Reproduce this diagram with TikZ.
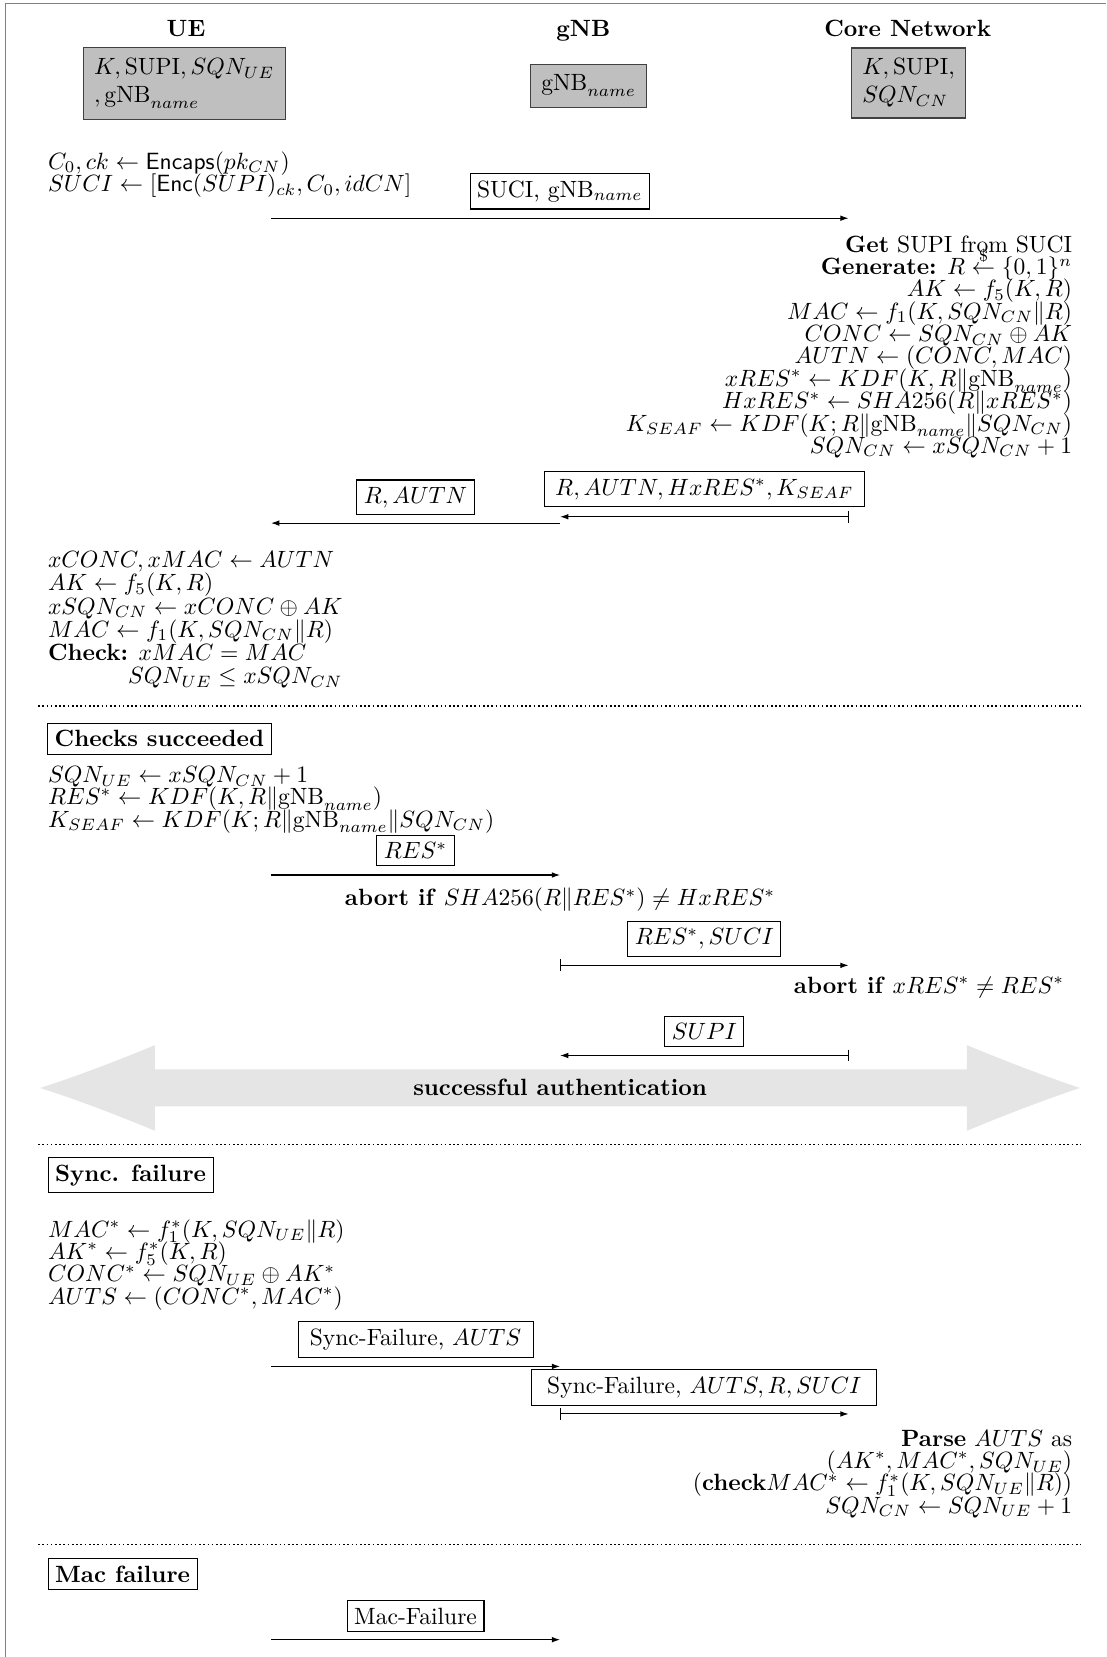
\documentclass[tikz,border=0pt]{standalone}
\usetikzlibrary{arrows.meta}
% fixed line pitch for the stacked formula blocks (lines may touch)
\newcommand{\tightlines}{\fontsize{10}{9.5}\selectfont\lineskiplimit=-100pt\lineskip=0pt\relax}
\newcommand{\looselines}{\fontsize{10}{9.85}\selectfont\lineskiplimit=-100pt\lineskip=0pt\relax}
\begin{document}
\begin{tikzpicture}[x=0.449pt,y=-0.449pt,
  every node/.style={font=\fontsize{10}{12}\selectfont},
  hdr/.style={font=\fontsize{10}{12}\selectfont\bfseries, anchor=base},
  keybox/.style={draw=black!75, line width=0.5pt, fill=lightgray, inner sep=4.5pt, align=left},
  msgbox/.style={draw, line width=0.45pt, inner sep=3pt, fill=white},
  sectbox/.style={draw, line width=0.45pt, inner sep=3pt, anchor=west,
    font=\fontsize{10}{12}\selectfont\bfseries},
  calcl/.style={inner sep=0pt, anchor=north west, align=left, font=\tightlines},
  calcr/.style={inner sep=0pt, anchor=north east, align=right, font=\tightlines},
  msg/.style={line width=0.45pt, -{Latex[length=3.5pt,width=2.4pt]}},
  fwdmsg/.style={line width=0.45pt, {Bar[width=5pt]}-{Latex[length=3.5pt,width=2.4pt]}},
  sep/.style={line width=0.7pt, dash pattern=on 0.7pt off 1.1pt},
]
\useasboundingbox (0,0) rectangle (1047,1568);

% outer frame (left and top edges)
\draw[gray, line width=0.6pt] (5,1568) -- (5,3.5) -- (1047,3.5);

% parties
\node[hdr] (ueh) at (176,34.5) {UE};
\node[hdr] (gnbh) at (552,34.5) {gNB};
\node[hdr] (cnh) at (859,34.5) {Core Network};

\node[keybox, text width=76.8pt] (uek) at (174.5,79) {$K,\mathrm{SUPI},SQN_{UE}$\\$,\mathrm{gNB}_{name}$};
\node[keybox] (gnbk) at (557,81) {$\mathrm{gNB}_{name}$};
\node[keybox, text width=39.5pt] (cnk) at (860,78.5) {$K,\mathrm{SUPI},$\\$SQN_{CN}$};

% SUCI computation at the UE
\node[calcl] (ue1) at (45,143) {$C_0, ck \leftarrow \mathsf{Encaps}(pk_{CN})$\\
  $SUCI \leftarrow [\mathsf{Enc}(SUPI)_{ck}, C_0, idCN]$};

\coordinate (a1s) at (256.5,206.5);
\coordinate (a1e) at (803,206.5);
\draw[msg] (a1s) -- node[msgbox, above=3.7pt] (l1) {SUCI, gNB$_{name}$} (a1e);

% challenge generation in the core network
\node[calcr] (cn1) at (1015,222.5) {\textbf{Get} SUPI from SUCI\\
  \textbf{Generate:} $R \stackrel{\$}{\leftarrow} \{0,1\}^n$\\
  $AK \leftarrow f_5(K,R)$\\
  $MAC \leftarrow f_1(K,SQN_{CN}\|R)$\\
  $CONC \leftarrow SQN_{CN} \oplus AK$\\
  $AUTN \leftarrow (CONC,MAC)$\\
  $xRES^* \leftarrow KDF(K,R\|\mathrm{gNB}_{name})$\\
  $HxRES^* \leftarrow SHA256(R\|xRES^*)$\\
  $K_{SEAF} \leftarrow KDF(K;R\|\mathrm{gNB}_{name}\|SQN_{CN})$\\
  $SQN_{CN} \leftarrow xSQN_{CN}+1$};

\coordinate (a2s) at (803,489);
\coordinate (a2e) at (530,489);
\draw[fwdmsg] (a2s) -- node[msgbox, inner xsep=4.5pt, above=4pt] (l2) {$R,AUTN,HxRES^*,K_{SEAF}$} (a2e);

\coordinate (a3s) at (530,495);
\coordinate (a3e) at (256.5,495);
\draw[msg] (a3s) -- node[msgbox, above=3.3pt] (l3) {$R,AUTN$} (a3e);

% verification at the UE
\node[calcl, font=\looselines] (ue2) at (45,521.5) {$xCONC,xMAC \leftarrow AUTN$\\
  $AK \leftarrow f_5(K,R)$\\
  $xSQN_{CN} \leftarrow xCONC \oplus AK$\\
  $MAC \leftarrow f_1(K,SQN_{CN}\|R)$\\
  \textbf{Check:} $xMAC = MAC$\\
  \hphantom{\textbf{Check:}}$SQN_{UE} \leq xSQN_{CN}$};

\draw[sep] (36,668) -- (1023,668);

% successful run
\node[sectbox] (cs) at (44.6,699) {Checks succeeded};
\node[calcl] (cs1) at (45,724.8) {$SQN_{UE} \leftarrow xSQN_{CN}+1$\\
  $RES^* \leftarrow KDF(K,R\|\mathrm{gNB}_{name})$\\
  $K_{SEAF} \leftarrow KDF(K;R\|\mathrm{gNB}_{name}\|SQN_{CN})$};

\coordinate (a4s) at (256.5,828);
\coordinate (a4e) at (530,828);
\draw[msg] (a4s) -- node[msgbox, above=3.7pt] (l4) {$RES^*$} (a4e);
\node[anchor=base] (ab1) at (530,857) {\textbf{abort if} $SHA256(R\|RES^*) \neq HxRES^*$};

\coordinate (a5s) at (530,913.5);
\coordinate (a5e) at (803,913.5);
\draw[fwdmsg] (a5s) -- node[msgbox, above=3.5pt] (l5) {$RES^*,SUCI$} (a5e);
\node[anchor=base east] (ab2) at (1015,940) {\textbf{abort if} $xRES^* \neq RES^*$};

\coordinate (a6s) at (803,998.8);
\coordinate (a6e) at (530,998.8);
\draw[fwdmsg] (a6s) -- node[msgbox, above=3.5pt] (l6) {$SUPI$} (a6e);

% wide double arrow
\fill[black!10]
  (38,1029.5) .. controls (80,1016) and (120,1000) .. (146.5,989)
  -- (146.5,1012) -- (915,1012) -- (915,989)
  .. controls (941.5,1000) and (981.5,1016) .. (1022,1029.5)
  .. controls (981.5,1043) and (941.5,1059) .. (915,1070)
  -- (915,1047) -- (146.5,1047) -- (146.5,1070)
  .. controls (120,1059) and (80,1043) .. cycle;
\node[anchor=base, font=\fontsize{10}{12}\selectfont\bfseries] (sa) at (530,1037) {successful authentication};

\draw[sep] (36,1083) -- (1023,1083);

% resynchronisation
\node[sectbox] (sf) at (45,1112) {Sync. failure};
\node[calcl] (sf1) at (45,1153.5) {$MAC^* \leftarrow f_1^*(K,SQN_{UE}\|R)$\\
  $AK^* \leftarrow f_5^*(K,R)$\\
  $CONC^* \leftarrow SQN_{UE} \oplus AK^*$\\
  $AUTS \leftarrow (CONC^*,MAC^*)$};

\coordinate (a7s) at (256.5,1293);
\coordinate (a7e) at (530,1293);
\draw[msg] (a7s) -- node[msgbox, inner xsep=5pt, above=3.7pt] (l7) {Sync-Failure, $AUTS$} (a7e);

\coordinate (a8s) at (530,1338);
\coordinate (a8e) at (803,1338);
\draw[fwdmsg] (a8s) -- node[msgbox, inner xsep=6.5pt, above=3.5pt] (l8) {Sync-Failure, $AUTS,R,SUCI$} (a8e);

\node[calcr] (sf2) at (1015,1352.7) {\textbf{Parse} $AUTS$ as\\
  $(AK^*,MAC^*,SQN_{UE})$\\
  $(\textbf{check}MAC^* \leftarrow f_1^*(K,SQN_{UE}\|R))$\\
  $SQN_{CN} \leftarrow SQN_{UE}+1$};

\draw[sep] (36,1461.5) -- (1023,1461.5);

% MAC failure
\node[sectbox] (mf) at (45,1489.5) {Mac failure};
\coordinate (a9s) at (256.5,1551.6);
\coordinate (a9e) at (530,1551.6);
\draw[msg] (a9s) -- node[msgbox, above=3.2pt] (l9) {Mac-Failure} (a9e);
\end{tikzpicture}
\end{document}
